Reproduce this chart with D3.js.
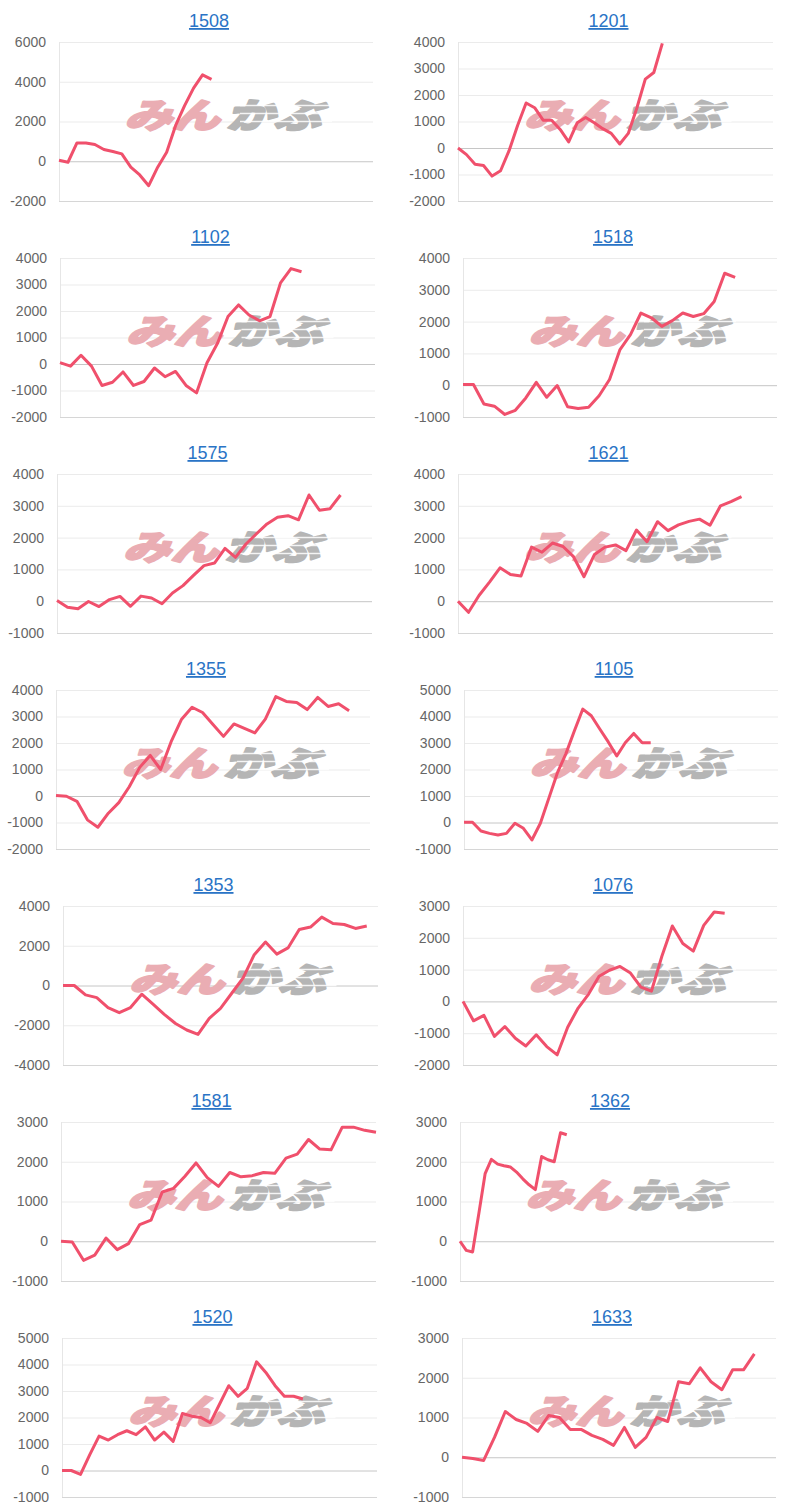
<!DOCTYPE html>
<html><head><meta charset="utf-8">
<script src="https://cdn.jsdelivr.net/npm/d3@7"></script>
<style>body{margin:0;background:#fff}</style>
</head><body>
<svg id="c" width="800" height="1512"></svg>
<script>
// ---- data ----
const codes = ["1508","1201","1102","1518","1575","1621","1355","1105","1353","1076","1581","1362","1520","1633"];
const s1508 = [50,-50,920,920,840,590,490,370,-300,-690,-1230,-300,450,1800,2800,3680,4350,4120];
const s1201 = [0,-250,-610,-660,-1060,-860,-100,850,1700,1520,1050,1050,700,230,950,1150,950,730,550,150,550,1500,2600,2850,3950];
const s1102 = [50,-80,330,-80,-810,-690,-300,-810,-660,-150,-480,-280,-810,-1090,50,780,1790,2230,1850,1630,1790,3060,3600,3480];
const s1518 = [20,20,-590,-660,-920,-790,-400,90,-380,-10,-680,-730,-690,-330,180,1120,1590,2270,2120,1850,2030,2270,2160,2250,2630,3520,3390];
const s1575 = [20,-190,-240,-10,-170,50,150,-160,160,100,-80,260,490,810,1120,1200,1660,1380,1800,2120,2430,2640,2690,2560,3340,2860,2910,3340];
const s1621 = [0,-350,180,600,1050,840,790,1700,1540,1830,1720,1400,770,1470,1700,1770,1590,2240,1870,2500,2220,2400,2510,2580,2390,3000,3130,3290];
const s1355 = [20,-10,-200,-900,-1180,-650,-250,350,1080,1530,1000,2050,2900,3350,3150,2700,2250,2720,2550,2380,2900,3750,3570,3530,3260,3720,3380,3480,3220];
const s1105 = [10,10,-320,-410,-470,-410,-30,-220,-660,-30,920,1870,2590,3450,4280,4030,3530,3040,2510,3010,3360,3010,3010];
const s1353 = [0,0,-470,-610,-1110,-1370,-1110,-440,-940,-1450,-1910,-2240,-2460,-1650,-1150,-390,370,1550,2190,1580,1890,2820,2940,3440,3120,3070,2870,2990];
const s1076 = [0,-610,-440,-1100,-790,-1160,-1400,-1050,-1420,-1680,-810,-210,230,790,980,1100,890,450,320,1420,2370,1820,1580,2390,2810,2770];
const s1581 = [0,-20,-480,-350,80,-210,-60,420,530,1240,1330,1630,1970,1600,1380,1730,1620,1650,1730,1710,2090,2190,2560,2320,2300,2870,2870,2790,2740];
const s1362 = [0,-230,-270,700,1700,2060,1940,1900,1870,1740,1570,1420,1300,2130,2050,2000,2730,2680];
const s1520 = [0,0,-150,600,1300,1150,1350,1500,1350,1650,1150,1450,1100,2150,2050,2000,1800,2500,3200,2800,3100,4100,3700,3200,2800,2800,2700];
const s1633 = [0,-30,-80,500,1150,950,850,650,1050,1000,700,700,550,450,300,750,250,500,1000,900,1900,1850,2250,1900,1700,2200,2200,2600];
const seriesList = [s1508,s1201,s1102,s1518,s1575,s1621,s1355,s1105,s1353,s1076,s1581,s1362,s1520,s1633];
const yMins  = [-2000,-2000,-2000,-1000,-1000,-1000,-2000,-1000,-4000,-2000,-1000,-1000,-1000,-1000];
const yMaxs  = [6000,4000,4000,4000,4000,4000,4000,5000,4000,3000,3000,3000,5000,3000];
const ySteps = [2000,1000,1000,1000,1000,1000,1000,1000,2000,1000,1000,1000,1000,1000];
const xSlots = [36,38,31,31,31,31,31,38,29,31,29,51,35,30];

// ---- layout (separate from data) ----
const plotLR = [[59,373],[58,373],[60,375],[63,377],[57,372],[58,373],[56,370],[64,378],[63,378],[63,377],[61,376],[60,374],[62,377],[62,376]];
const rowH = 216, plotTop = 42, plotBottom = 201;
const FONT = "'Liberation Sans', Arial, sans-serif";

const svg = d3.select("#c");

codes.forEach((code, i) => {
  const col = i % 2, row = Math.floor(i / 2);
  const x0 = col * 400, y0 = row * rowH;
  const [L, R] = plotLR[i];
  const g = svg.append("g").attr("transform", `translate(${x0},${y0})`);
  const y = d3.scaleLinear().domain([yMins[i], yMaxs[i]]).range([plotBottom, plotTop]);
  const x = d3.scaleLinear().domain([0, xSlots[i] - 1]).range([L, R]);
  const ticks = d3.range(yMins[i], yMaxs[i] + 1, ySteps[i]);

  // title
  g.append("text")
    .attr("x", (L + R) / 2 - 7).attr("y", 27)
    .attr("text-anchor", "middle")
    .attr("font-family", FONT).attr("font-size", 18)
    .attr("fill", "#2a74c6")
    .attr("text-decoration", "underline")
    .text(code);

  // grid + labels
  const ax = g.append("g").attr("transform", `translate(${L},0)`)
    .call(d3.axisLeft(y).tickValues(ticks).tickSize(-(R - L)).tickPadding(13).tickFormat(d => String(d)));
  ax.select(".domain").remove();
  ax.selectAll(".tick line").attr("stroke", d => d === 0 ? "#c6c6c6" : (d === yMins[i] ? "#d6d6d6" : "#ebebeb")).attr("stroke-width", 1);
  ax.selectAll(".tick text").attr("fill", "#666").attr("font-family", FONT).attr("font-size", 14);

  // left axis line
  g.append("line").attr("x1", L + 0.5).attr("x2", L + 0.5).attr("y1", plotTop).attr("y2", plotBottom)
    .attr("stroke", "#e6e6e6");

  // watermark
  const cx = (L + R) / 2 + 12, cy = (plotTop + plotBottom) / 2 - 9;
  const wm = g.append("g").attr("transform", `translate(${cx},${cy})`);
  const wmText = (txt, xx, anchor, color) => wm.append("text").attr("x", xx).attr("y", 0).attr("text-anchor", anchor)
    .attr("transform", "scale(1.08,0.78) skewX(-14)")
    .attr("dominant-baseline", "central")
    .attr("font-family", "'Noto Sans CJK JP', sans-serif").attr("font-weight", 900).attr("font-size", 44)
    .attr("fill", color).attr("stroke", color).attr("stroke-width", 2.5).attr("stroke-linejoin", "round")
    .text(txt);
  wmText("みん", -3, "end", "#eaadb3");
  wmText("かぶ", 3, "start", "#b5b5b5");
  [-7, 1, 9].forEach(dy => {
    wm.append("line").attr("x1", 12).attr("x2", 104).attr("y1", dy).attr("y2", dy)
      .attr("stroke", "#fff").attr("stroke-width", 1.5).attr("opacity", 0.85);
  });

  // line
  const line = d3.line().x((d, k) => x(k)).y(d => y(d));
  g.append("path").datum(seriesList[i])
    .attr("d", line)
    .attr("fill", "none").attr("stroke", "#f0506c").attr("stroke-width", 3)
    .attr("stroke-linejoin", "round").attr("stroke-linecap", "butt");
});
</script>
</body></html>
